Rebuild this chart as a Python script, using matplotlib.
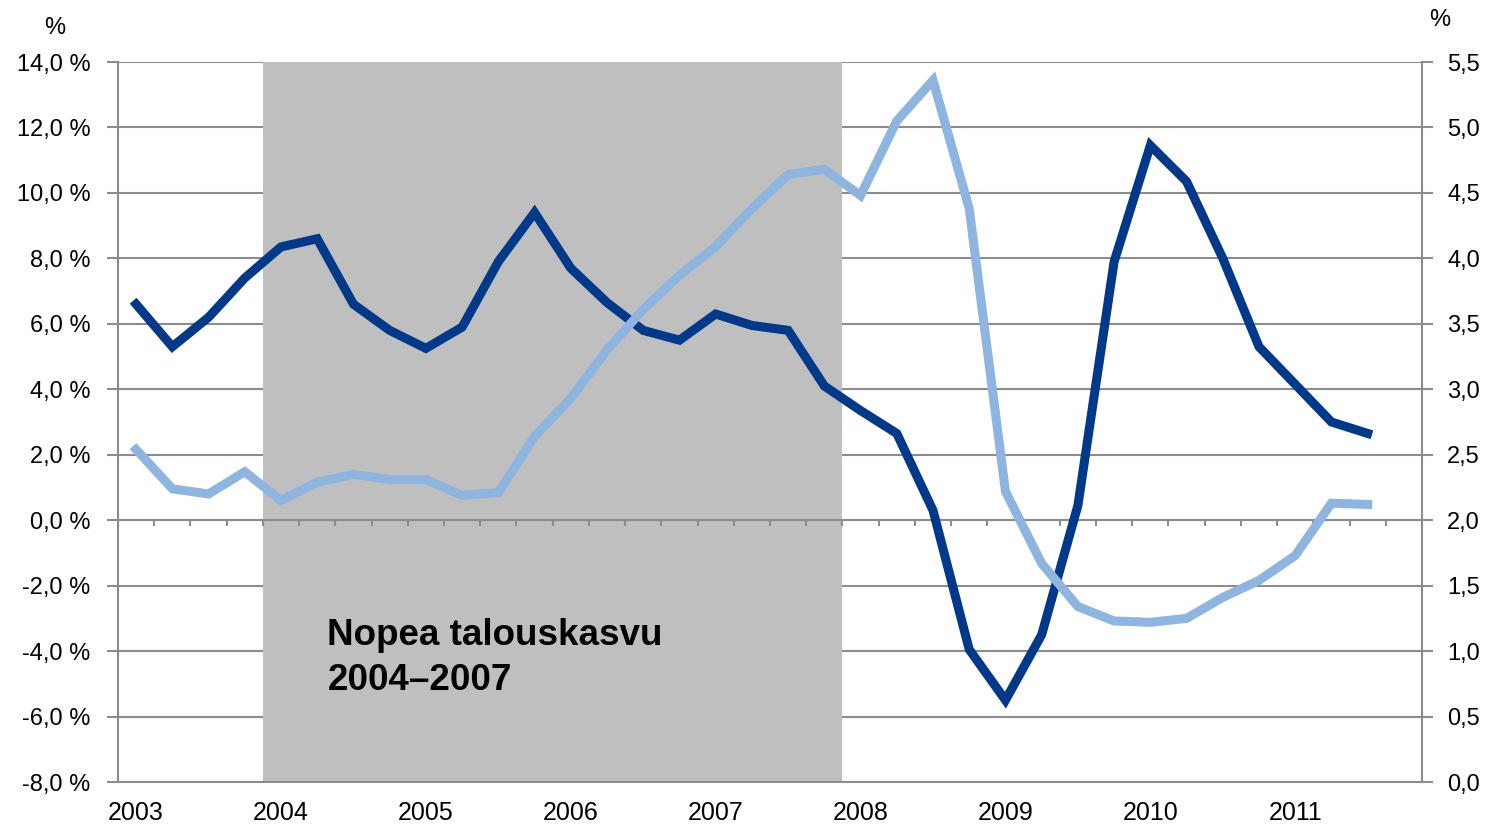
import numpy as np
import matplotlib
matplotlib.use("Agg")
import matplotlib.pyplot as plt

plt.rcParams['font.family'] = ['Liberation Sans', 'DejaVu Sans']

# quarterly data 2003Q1 .. 2011Q3
years = ['2003', '2004', '2005', '2006', '2007', '2008', '2009', '2010', '2011']
n_quarters = 36

dark_vals = [6.6, 5.3, 6.2, 7.4, 8.35, 8.6, 6.6, 5.8, 5.25, 5.9, 7.9, 9.4,
             7.7, 6.65, 5.8, 5.5, 6.3, 5.95, 5.8, 4.1, 3.35, 2.65, 0.3, -3.95,
             -5.5, -3.5, 0.45, 7.9, 11.45, 10.35, 8.0, 5.3, 4.15, 3.0, 2.65]
light_vals = [2.54, 2.24, 2.2, 2.37, 2.15, 2.29, 2.35, 2.31, 2.31, 2.19, 2.21, 2.64,
              2.93, 3.3, 3.61, 3.87, 4.09, 4.38, 4.64, 4.68, 4.48, 5.05, 5.36, 4.38,
              2.22, 1.67, 1.34, 1.23, 1.22, 1.25, 1.41, 1.54, 1.73, 2.13, 2.12]

boom_start, boom_end = 4, 20   # 2004Q1 .. 2007Q4
boom_label = 'Nopea talouskasvu\n2004\u20132007'

left_ticks = np.arange(-8, 15, 2)
right_ticks = np.arange(0, 5.51, 0.5)

grid_col = '#8C8C8C'
dark_col = '#00388A'
light_col = '#8EB4E0'

fig = plt.figure(figsize=(14.85, 8.27), dpi=100)
ax = fig.add_axes([118 / 1485, 45 / 827, (1422 - 118) / 1485, 720 / 827])

x = np.arange(len(dark_vals))

ax.set_xlim(-0.5, n_quarters - 0.5)
ax.set_ylim(-8, 14)
ax.set_axisbelow(True)
ax.yaxis.grid(True, color=grid_col, linewidth=1.5)

ax.axvspan(boom_start - 0.5, boom_end - 0.5, color='#BFBFBF', lw=0, zorder=1)

# zero axis line with category tick marks
ax.axhline(0, color=grid_col, linewidth=1.5, zorder=1.5)
ax.vlines(np.arange(-0.5, n_quarters, 1), -0.18, 0, color=grid_col, linewidth=1.5, zorder=1.5)

ax.plot(x, dark_vals, color=dark_col, linewidth=6.5, solid_joinstyle='miter', zorder=2)

ax.text(5.28, -5.2, boom_label, fontsize=26.5, fontweight='bold', va='baseline',
        linespacing=1.38, zorder=3)

ax.set_yticks(left_ticks)
ax.set_yticklabels([f"{v:.1f} %".replace('.', ',') for v in left_ticks])
ax.set_xticks(np.arange(0, n_quarters, 4))
ax.set_xticklabels(years)
ax.tick_params(axis='x', length=0, pad=14, labelsize=18)
ax.tick_params(axis='y', length=8, width=1.5, color=grid_col, pad=12, labelsize=17)

for side in ['top', 'right']:
    ax.spines[side].set_visible(False)
for side in ['left', 'bottom']:
    ax.spines[side].set_color(grid_col)
    ax.spines[side].set_linewidth(1.5)

ax2 = ax.twinx()
ax2.set_ylim(0, 5.5)
ax2.plot(x, light_vals, color=light_col, linewidth=6.5, solid_joinstyle='miter', zorder=2)
ax2.set_yticks(right_ticks)
ax2.set_yticklabels([f"{v:.1f}".replace('.', ',') for v in right_ticks])
ax2.tick_params(axis='y', length=8, width=1.5, color=grid_col, pad=10, labelsize=17)
for side in ['top', 'left', 'bottom']:
    ax2.spines[side].set_visible(False)
ax2.spines['right'].set_color(grid_col)
ax2.spines['right'].set_linewidth(1.5)

fig.text(55 / 1485, 1 - 28 / 827, '%', fontsize=17, ha='center', va='center')
fig.text(1440 / 1485, 1 - 20 / 827, '%', fontsize=17, ha='center', va='center')

fig.savefig('out.png', dpi=100)
